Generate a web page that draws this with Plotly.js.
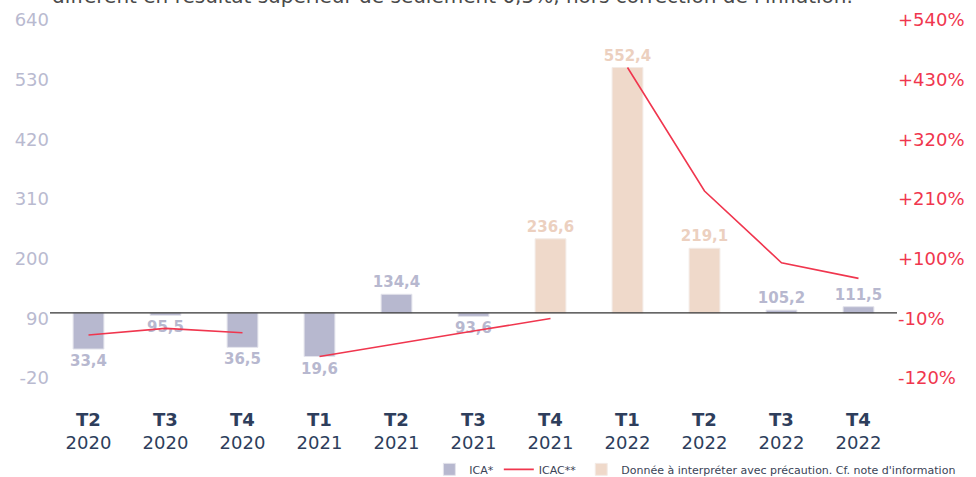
<!DOCTYPE html>
<html>
<head>
<meta charset="utf-8">
<script src="https://cdn.plot.ly/plotly-3.0.1.min.js"></script>
<style>html,body{margin:0;padding:0;background:#fff;}#chart{width:976px;height:477px;}</style>
</head>
<body>
<div id="chart"></div>
<script>
// ---- data ----
const quarters = ["T2","T3","T4","T1","T2","T3","T4","T1","T2","T3","T4"];
const years = ["2020","2020","2020","2021","2021","2021","2021","2022","2022","2022","2022"];
const icaValues = [33.4, 95.5, 36.5, 19.6, 134.4, 93.6, 236.6, 552.4, 219.1, 105.2, 111.5];
const precaution = [false, false, false, false, false, false, true, true, true, false, false];
// ICAC (cumulative, %), one segment per year
const icac2020 = [-40.8, -28.4, -36.5];
const icac2021 = [-80.4, -56.5, -33.4, -10.4];
const icac2022 = [452.4, 224.7, 92.5, 63.7];
const baseValue = 100;
const leftTicks = [-20, 90, 200, 310, 420, 530, 640];
const rightTicks = [-120, -10, 100, 210, 320, 430, 540];

const cats = quarters.map((q, i) => "<b>" + q + "</b><br>" + years[i]);
const fmt = v => v.toFixed(1).replace(".", ",");

const lav = "#b7b8cf";
const peach = "#efd9ca";
const red = "#f0364e";

const icaY = icaValues.map((v, i) => precaution[i] ? null : v - baseValue);
const preY = icaValues.map((v, i) => precaution[i] ? v - baseValue : null);

const textFont = {family: "DejaVu Sans", size: 15};

// ICAC line: segments per year separated by gaps
const lineIdx = [0, 1, 2, null, 3, 4, 5, 6, null, 7, 8, 9, 10];
const lineX = lineIdx.map(i => i === null ? null : cats[i]);
const lineY = icac2020.concat([null], icac2021, [null], icac2022);

const traces = [
  {
    type: "bar", name: "ICA*", x: cats, y: icaY, base: baseValue,
    marker: {color: lav, line: {color: "#e4e4ec", width: 1}},
    text: icaValues.map((v, i) => precaution[i] ? "" : "<b>" + fmt(v) + "</b>"),
    textposition: "outside", cliponaxis: false, constraintext: "none",
    textfont: Object.assign({color: lav}, textFont),
    width: 0.4, hoverinfo: "skip"
  },
  {
    type: "scatter", mode: "lines", name: "ICAC**",
    x: lineX, y: lineY,
    yaxis: "y2", connectgaps: false,
    line: {color: red, width: 1.6}, hoverinfo: "skip"
  },
  {
    type: "bar", name: "Donnée à interpréter avec précaution. Cf. note d'information",
    x: cats, y: preY, base: baseValue,
    marker: {color: peach, line: {color: "#f3ebe6", width: 1}},
    text: icaValues.map((v, i) => precaution[i] ? "<b>" + fmt(v) + "</b>" : ""),
    textposition: "outside", cliponaxis: false, constraintext: "none",
    textfont: Object.assign({color: "#ecd0bf"}, textFont),
    width: 0.4, hoverinfo: "skip"
  }
];

const yMin = -51.3, yMax = 658.4;

const layout = {
  width: 976, height: 477,
  margin: {l: 50, r: 79, t: 10, b: 82},
  paper_bgcolor: "#fff", plot_bgcolor: "#fff",
  font: {family: "DejaVu Sans", color: "#2e3e5c"},
  barmode: "overlay",
  showlegend: true,
  legend: {
    orientation: "h", xref: "container", yref: "container",
    x: 0.985, xanchor: "right", y: 0.016, yanchor: "middle",
    font: {size: 11, color: "#3a4356"}, traceorder: "normal", itemwidth: 30
  },
  xaxis: {
    type: "category", showgrid: false, zeroline: false, showline: false,
    ticks: "", ticklabelstandoff: 12, automargin: false,
    tickfont: {size: 18, color: "#2e3e5c"}, fixedrange: true
  },
  yaxis: {
    range: [yMin, yMax], showgrid: false, zeroline: false, showline: false,
    tickvals: leftTicks, ticktext: leftTicks.map(String), automargin: false,
    tickfont: {size: 18, color: "#b9bad0"}, ticks: "", fixedrange: true
  },
  yaxis2: {
    overlaying: "y", side: "right", automargin: false,
    range: [yMin - baseValue, yMax - baseValue], showgrid: false, zeroline: false, showline: false,
    tickvals: rightTicks, ticktext: rightTicks.map(v => (v > 0 ? "+" : "") + v + "%"),
    tickfont: {size: 18, color: red}, ticks: "", fixedrange: true
  },
  shapes: [{
    type: "line", xref: "paper", x0: 0, x1: 1, yref: "y", y0: baseValue, y1: baseValue,
    line: {color: "#333", width: 1.2}, layer: "above"
  }],
  annotations: [{
    xref: "paper", yref: "paper", x: 0, y: 1, xanchor: "left", yanchor: "bottom", yshift: 0,
    showarrow: false, align: "left",
    text: "différent en résultat supérieur de seulement 0,5%, hors correction de l'inflation.",
    font: {size: 20, color: "#4a4a4a"}
  }]
};

Plotly.newPlot("chart", traces, layout, {displayModeBar: false, staticPlot: true});
</script>
</body>
</html>
